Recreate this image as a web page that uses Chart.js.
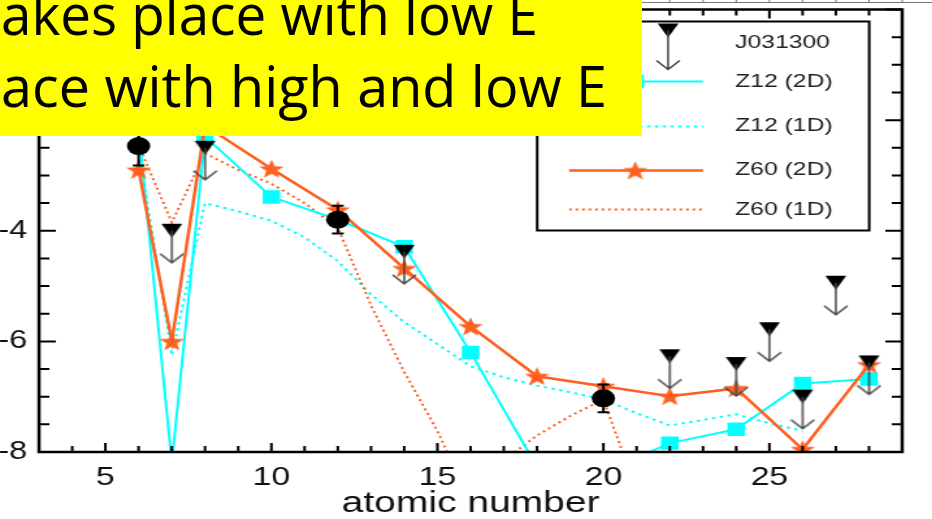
<!DOCTYPE html>
<html>
<head>
<meta charset="utf-8">
<script src="https://cdn.jsdelivr.net/npm/chart.js@4/dist/chart.umd.min.js"></script>
<style>
  html, body { margin: 0; padding: 0; width: 932px; height: 519px; overflow: hidden; background: #fff; }
  /* the original figure is stretched sideways, so the canvas is too */
  #wrap { position: absolute; left: -26px; top: 0; width: 740px; height: 519px; transform: scaleX(1.3); transform-origin: 0 0; }
  #note { position: absolute; left: 0; top: 0; }
</style>
</head>
<body>
<div id="wrap"><canvas id="chart" width="740" height="519"></canvas></div>
<svg id="note" width="642" height="136">
  <rect width="642" height="136" fill="#ffff00"/>
  <text x="1" y="35" font-family="Open Sans" font-size="57" textLength="537" lengthAdjust="spacingAndGlyphs">akes place with low E</text>
  <text x="1" y="107" font-family="Open Sans" font-size="57" textLength="606" lengthAdjust="spacingAndGlyphs">ace with high and low E</text>
</svg>
<script>
// Datos
const xTickValues = [5, 10, 15, 20, 25];
const yTickValues = [-8, -6, -4, -2, 0];

// J031300: detecciones (con error) y límites superiores
const detZ = [6, 12, 20];
const detAbund = [-2.47, -3.8, -7.03];
const detErr = [0.35, 0.25, 0.25];
const limZ = [7, 8, 14, 22, 24, 25, 26, 27, 28];
const limAbund = [-4.0, -2.5, -4.38, -6.27, -6.41, -5.78, -7.0, -4.94, -6.38];

// modelos 2D
const z2dZ = [6, 7, 8, 10, 12, 14, 16, 18, 20, 22, 24, 26, 28];
const z12_2d = [-2.15, -8.2, -2.3, -3.39, -3.8, -4.29, -6.2, -8.27, -8.37, -7.84, -7.59, -6.76, -6.68];
const z60_2d = [-2.9, -6.0, -2.1, -2.88, -3.62, -4.68, -5.73, -6.63, -6.81, -6.99, -6.85, -7.95, -6.42];

// modelos 1D
const z12_1dZ = [6, 7, 8, 9, 10, 11, 12, 13, 14, 15, 16, 17, 18, 19, 20, 21, 22, 23, 24, 25, 26];
const z12_1d = [-2.5, -6.25, -3.5, -3.65, -3.82, -4.12, -4.55, -5.15, -5.65, -6.05, -6.45, -6.65, -6.8, -6.92, -7.05, -7.3, -7.52, -7.42, -7.32, -7.48, -7.62];
const z60_1dZ = [6, 7, 8, 9, 10, 11, 12, 13, 14, 15, 16, 17, 18, 19, 20, 21];
const z60_1d = [-2.45, -3.85, -2.6, -2.9, -3.15, -3.5, -3.95, -5.35, -6.55, -7.62, -8.9, -8.15, -7.7, -7.35, -7.05, -8.7];

const CYAN = "#00ffff";
const ORANGE = "#ff6020";

function pairs(xs, ys) {
    return xs.map((v, i) => ({ x: v, y: ys[i] }));
}

// triángulo negro con flecha hacia abajo (límite superior)
function drawLimit(ctx, cx, cy, arrowLen) {
    ctx.fillStyle = "#000";
    ctx.beginPath();
    ctx.moveTo(cx - 8, cy - 7);
    ctx.lineTo(cx + 8, cy - 7);
    ctx.lineTo(cx, cy + 7);
    ctx.closePath();
    ctx.fill();
    ctx.strokeStyle = "#444";
    ctx.lineWidth = 1.5;
    ctx.beginPath();
    ctx.moveTo(cx, cy);
    ctx.lineTo(cx, cy + arrowLen);
    ctx.moveTo(cx - 9, cy + arrowLen - 9);
    ctx.lineTo(cx, cy + arrowLen);
    ctx.lineTo(cx + 9, cy + arrowLen - 9);
    ctx.stroke();
}

function drawStar(ctx, cx, cy, r) {
    ctx.fillStyle = ORANGE;
    ctx.beginPath();
    for (let k = 0; k < 10; k++) {
        const rr = k % 2 === 0 ? r : r * 0.42;
        const ang = -Math.PI / 2 + (k * Math.PI) / 5;
        ctx.lineTo(cx + rr * Math.cos(ang), cy + rr * Math.sin(ang));
    }
    ctx.closePath();
    ctx.fill();
}

const limitImg = document.createElement("canvas");
limitImg.width = 20;
limitImg.height = 72;
drawLimit(limitImg.getContext("2d"), 10, 36, 32);

const starImg = document.createElement("canvas");
starImg.width = 22;
starImg.height = 22;
drawStar(starImg.getContext("2d"), 11, 11.8, 10);

// marco, marcas hacia dentro y barras de error
const framePlugin = {
    id: "frame",
    afterDatasetsDraw(chart) {
        const { ctx, chartArea: a, scales: { x, y } } = chart;
        ctx.save();

        ctx.strokeStyle = "#000";
        ctx.lineWidth = 2;
        chart.getDatasetMeta(0).data.forEach((pt, i) => {
            const top = y.getPixelForValue(detAbund[i] + detErr[i]);
            const bot = y.getPixelForValue(detAbund[i] - detErr[i]);
            ctx.beginPath();
            ctx.moveTo(pt.x, top);
            ctx.lineTo(pt.x, bot);
            ctx.moveTo(pt.x - 4.5, top);
            ctx.lineTo(pt.x + 4.5, top);
            ctx.moveTo(pt.x - 4.5, bot);
            ctx.lineTo(pt.x + 4.5, bot);
            ctx.stroke();
        });

        ctx.lineWidth = 2.5;
        ctx.strokeRect(a.left, a.top, a.width, a.height);

        ctx.lineWidth = 2;
        ctx.beginPath();
        for (let v = x.min; v <= x.max; v++) {
            const px = x.getPixelForValue(v);
            const len = v % 5 === 0 ? 9 : 6;
            ctx.moveTo(px, a.bottom);
            ctx.lineTo(px, a.bottom - len);
            ctx.moveTo(px, a.top);
            ctx.lineTo(px, a.top + len);
        }
        for (let v = y.min; v <= y.max; v += 0.5) {
            const py = y.getPixelForValue(v);
            const len = v % 2 === 0 ? 13 : 8;
            ctx.moveTo(a.left, py);
            ctx.lineTo(a.left + len, py);
            ctx.moveTo(a.right, py);
            ctx.lineTo(a.right - len, py);
        }
        ctx.stroke();

        // borde del panel de arriba, apenas visible
        ctx.strokeStyle = "#777";
        ctx.lineWidth = 1;
        ctx.beginPath();
        ctx.moveTo(a.left, 2.5);
        ctx.lineTo(chart.width, 2.5);
        for (let v = x.min; v <= x.max; v++) {
            const px = x.getPixelForValue(v);
            ctx.moveTo(px, 0);
            ctx.lineTo(px, 2.5);
        }
        ctx.stroke();
        ctx.restore();
    },
};

// leyenda con recuadro, como en la figura
const legendPlugin = {
    id: "boxLegend",
    afterDraw(chart) {
        const { ctx, chartArea: a } = chart;
        const w = 255.4, h = 209;
        const right = a.right - 25.4, left = right - w, top = a.top + 12;
        const x0 = left + 24.6, x1 = left + 127.7, mid = left + 75.4;
        const tx = left + 152.3;
        ctx.save();
        ctx.fillStyle = "#fff";
        ctx.fillRect(left, top, w, h);
        ctx.strokeStyle = "#000";
        ctx.lineWidth = 2;
        ctx.strokeRect(left, top, w, h);

        drawLimit(ctx, left + 100.7, top + 9, 39);

        const line = (yy, color, width, dash) => {
            ctx.strokeStyle = color;
            ctx.lineWidth = width;
            ctx.setLineDash(dash);
            ctx.beginPath();
            ctx.moveTo(x0, yy);
            ctx.lineTo(x1, yy);
            ctx.stroke();
            ctx.setLineDash([]);
        };
        line(top + 60, CYAN, 2, []);
        ctx.fillStyle = CYAN;
        ctx.fillRect(mid - 6.7, top + 60 - 6.7, 13.4, 13.4);
        line(top + 105, CYAN, 2, [2.5, 3.5]);
        line(top + 149, ORANGE, 2.5, []);
        ctx.drawImage(starImg, mid - 11, top + 149 - 11);
        line(top + 188, ORANGE, 2, [2, 3]);

        ctx.fillStyle = "#222";
        ctx.font = '19px "Liberation Sans", Arial, sans-serif';
        ctx.textBaseline = "middle";
        ctx.textAlign = "left";
        ctx.fillText("J031300", tx, top + 21);
        ctx.fillText("Z12 (2D)", tx, top + 60);
        ctx.fillText("Z12 (1D)", tx, top + 104);
        ctx.fillText("Z60 (2D)", tx, top + 148);
        ctx.fillText("Z60 (1D)", tx, top + 188);
        ctx.restore();
    },
};

document.addEventListener("DOMContentLoaded", function () {
    Chart.defaults.font.family = '"Liberation Sans", Arial, sans-serif';
    Chart.defaults.color = "#111";

    new Chart(document.getElementById("chart"), {
        type: "line",
        data: {
            datasets: [
                {
                    label: "J031300",
                    data: pairs(detZ, detAbund),
                    showLine: false,
                    pointStyle: "circle",
                    pointRadius: 9,
                    pointBackgroundColor: "#000",
                    pointBorderWidth: 0,
                },
                {
                    label: "J031300 limits",
                    data: pairs(limZ, limAbund),
                    showLine: false,
                    pointStyle: limitImg,
                },
                {
                    label: "Z60 (2D)",
                    data: pairs(z2dZ, z60_2d),
                    borderColor: ORANGE,
                    borderWidth: 2.5,
                    pointStyle: starImg,
                    clip: 0,
                },
                {
                    label: "Z12 (2D)",
                    data: pairs(z2dZ, z12_2d),
                    borderColor: CYAN,
                    borderWidth: 2,
                    pointStyle: "rect",
                    pointRadius: 9.5,
                    pointBackgroundColor: CYAN,
                    pointBorderWidth: 0,
                    clip: 0,
                },
                {
                    label: "Z60 (1D)",
                    data: pairs(z60_1dZ, z60_1d),
                    borderColor: ORANGE,
                    borderWidth: 2,
                    borderDash: [2, 3],
                    pointRadius: 0,
                    clip: 0,
                },
                {
                    label: "Z12 (1D)",
                    data: pairs(z12_1dZ, z12_1d),
                    borderColor: CYAN,
                    borderWidth: 2,
                    borderDash: [2.5, 3.5],
                    pointRadius: 0,
                    clip: 0,
                },
            ],
        },
        options: {
            responsive: false,
            animation: false,
            events: [],
            layout: { padding: { top: 8, right: 26, left: 0, bottom: 0 } },
            plugins: { legend: { display: false }, tooltip: { enabled: false } },
            scales: {
                x: {
                    type: "linear",
                    min: 3,
                    max: 29,
                    grid: { display: false, drawTicks: false },
                    border: { display: false },
                    ticks: { font: { size: 26 }, padding: 10 },
                    afterBuildTicks: (scale) => {
                        scale.ticks = xTickValues.map((v) => ({ value: v }));
                    },
                    afterFit: (scale) => {
                        scale.height = 67;
                        scale.paddingLeft = 0;
                        scale.paddingRight = 0;
                    },
                    title: {
                        display: true,
                        text: "atomic number",
                        font: { size: 30, lineHeight: 1 },
                        padding: { top: 0, bottom: 0 },
                    },
                },
                y: {
                    type: "linear",
                    min: -8,
                    max: 0,
                    grid: { display: false, drawTicks: false },
                    border: { display: false },
                    ticks: { font: { size: 25 }, padding: 9 },
                    afterBuildTicks: (scale) => {
                        scale.ticks = yTickValues.map((v) => ({ value: v }));
                    },
                    afterFit: (scale) => {
                        scale.width = 50;
                        scale.paddingTop = 0;
                        scale.paddingBottom = 0;
                    },
                },
            },
        },
        plugins: [framePlugin, legendPlugin],
    });
});
</script>
</body>
</html>
